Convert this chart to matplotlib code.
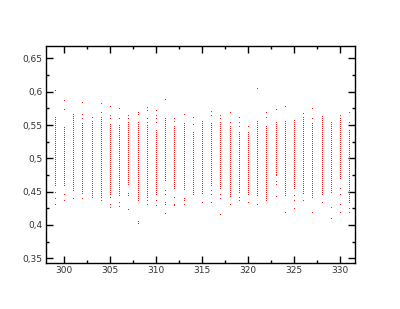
import matplotlib
matplotlib.use("Agg")
import matplotlib.pyplot as plt
from matplotlib.ticker import MultipleLocator, FuncFormatter

# values in thousandths, one list per integer x position
x_positions = list(range(299, 332))
c299 = [602, 562,559,556,553,550,547,544,541,538,535,532,529,526,523,520,517,514,511,508,505,502,499,496,493,490,487,484,481,478,475,472,469,466,463,460, 450, 441, 431]
c300 = [587, 574, 547,544,541,538,535,532,529,526,523,520,517,514,511,508,505,502,499,496,493,490,487,484,481,478,475,472,469,466,463,460, 447, 437]
c301 = [566,563,560,557,554,551,548,545,542,539,536,533,530,527,524,521,518,515,512,509,506,503,500,497,494,491,488,485,482,479,476,473,470,467,464,461,458,455,452, 441]
c302 = [585, 566, 560, 553,550,547,544,541,538,535,532,529,526,523,520,517,514,511,508,505,502,499,496,493,490,487,484,481,478,475,472,469,466,463,460,457,454,451,448, 440]
c303 = [562, 556,553,550,547,544,541,538,535,532,529,526,523,520,517,514,511,508,505,502,499,496,493,490,487,484,481,478,475,472,469,466,463,460,457,454,451,448,445,442]
c304 = [583, 569, 562,559,556,553,550,547,544,541,538,535,532,529,526,523,520,517,514,511,508,505,502,499,496,493,490,487,484,481,478,475,472,469,466,463,460,457,454,451,448,445,442,437]
c305 = [578, 565, 560, 551,548,545,542,539,536,533,530,527,524,521,518,515,512,509,506,503,500,497,494,491,488,485,482,479,476,473,470,467,464,461,458,455,452,449,446,442, 432, 427]
c306 = [575, 560, 550,547,544,541,538,535,532,529,526,523,520,517,514,511,508,505,502,499,496,493,490,487,484,481,478,475,472,469,466,463,460,457,454,451,448,445, 434, 428]
c307 = [565, 560, 555,552,549,546,543,540,537,534,531,528,525,522,519,516,513,510,507,504,501,498,495,492,489,486,483,480,477,474,471,468,465,462, 448, 445, 424]
c308 = [569, 566, 554,551,548,545,542,539,536,533,530,527,524,521,518,515,512,509,506,503,500,497,494,491,488,485,482,479,476,473,470,467,464,461,458,455,452,449,446,443,440,437, 406, 403]
c309 = [577, 573, 560, 555, 550,547,544,541,538,535,532,529,526,523,520,517,514,511,508,505,502,499,496,493,490,487,484,481,478,475,472,469,466,463,460,457,454,451,448,445,442,438, 431]
c310 = [572, 565, 560, 555, 543,540,537,534,531,528,525,522,519,516,513,510,507,504,501,498,495,492,489,486,483,480,477,474,471,468,465,462,459,456,453,450,447, 437, 430]
c311 = [589, 560,557,554,551,548,545,542,539,536,533,530,527,524,521,518,515,512,509,506,503,500,497,494,491,488,485,482,479,476,473,470,468, 453, 447, 435, 431, 418]
c312 = [560, 556, 549,546,543,540,537,534,531,528,525,522,519,516,513,510,507,504,501,498,495,492,489,486,483,480,477,474,471,468,465,462,459,456, 442, 432, 430]
c313 = [566, 553,550,547,544,541,538,535,532,529,526,523,520,517,514,511,508,505,502,499,496,493,490,487,484,481,478,475,472,469,466,463,460,457,454, 441, 437, 431]
c314 = [562, 551, 540,537,534,531,528,525,522,519,516,513,510,507,504,501,498,495,492,489,486,483,480,477,474,471,468,465,462,459,456,453,450,447]
c315 = [556,553,550,547,544,541,538,535,532,529,526,523,520,517,514,511,508,505,502,499,496,493,490,487,484,481,478,475,472,469,466,463,460,457,454,451,448, 435]
c316 = [571, 565, 553,550,547,544,541,538,535,532,529,526,523,520,517,514,511,508,505,502,499,496,493,490,487,484,481,478,475,472,469,466,463,460, 452, 446, 434]
c317 = [565, 560, 554,551,548,545,542,539,536,533,530,527,524,521,518,515,512,509,506,503,500,497,494,491,488,485,482,479,476,473,470,467,464,461,458,455, 447, 440, 416]
c318 = [569, 555, 548,545,542,539,536,533,530,527,524,521,518,515,512,509,506,503,500,497,494,491,488,485,482,479,476,473,470,467,464,461,458,455,452,449,446,443, 432]
c319 = [562, 554, 548, 540,537,534,531,528,525,522,519,516,513,510,507,504,501,498,495,492,489,486,483,480,477,474,471,468,465,462,459,456,453,450, 442, 438]
c320 = [548, 540,537,534,531,528,525,522,519,516,513,510,507,504,501,498,495,492,489,486,483,480,477,474,471,468,465,462,459,456,453,450,447, 434]
c321 = [605, 556,553,550,547,544,541,538,535,532,529,526,523,520,517,514,511,508,505,502,499,496,493,490,487,484,481,478,475,472,469,466,463,460,457,454,451,448,445, 432]
c322 = [570, 562, 548,545,542,539,536,533,530,527,524,521,518,515,512,509,506,503,500,497,494,491,488,485,482,479,476,473,470,467,464,461,458,455,452,449,446,443,440,437]
c323 = [574, 555,552,549,546,543,540,537,534,531,528,525,522,519,516,513,510,507,504,501,498,495,492,489,486,483,480,477,475, 466, 462, 443]
c324 = [578, 556,553,550,547,544,541,538,535,532,529,526,523,520,517,514,511,508,505,502,499,496,493,490,487,484,481,478,475,472,469,466,463,460,457,454,451,448,445, 420]
c325 = [558,555,552,549,546,543,540,537,534,531,528,525,522,519,516,513,510,507,504,501,498,495,492,489,486,483,480,477,474,471,468,465,462,459,456, 445, 437, 425]
c326 = [568, 562,559,556,553,550,547,544,541,538,535,532,529,526,523,520,517,514,511,508,505,502,499,496,493,490,487,484,481,478,475,472,469,466,463,460,457,454,451,448, 437]
c327 = [575, 560, 553,550,547,544,541,538,535,532,529,526,523,520,517,514,511,508,505,502,499,496,493,490,487,484,481,478,475,472,469,466,463,460,457,454,451,448,445,442, 419]
c328 = [563,560,557,554,551,548,545,542,539,536,533,530,527,524,521,518,515,512,509,506,503,500,497,494,491,488,485,482,479,476,473,470,467,464,461,458,455,452,449,446, 435]
c329 = [555,552,549,546,543,540,537,534,531,528,525,522,519,516,513,510,507,504,501,498,495,492,489,486,483,480,477,474,471,468,465,462,459,456,453,450, 427, 410]
c330 = [565, 560,557,554,551,548,545,542,539,536,533,530,527,524,521,518,515,512,509,506,503,500,497,494,491,488,485,482,479,476,473,470, 455, 447, 431, 420]
c331 = [570, 555, 543,540,537,534,531,528,525,522,519,516,513,510,507,504,501,498,495,492,489,486,483,480,477,474,471,468,465,462,459,456,453,450,447,444,441,438,435, 426, 420]

columns = [c299, c300, c301, c302, c303, c304, c305, c306, c307, c308, c309,
           c310, c311, c312, c313, c314, c315, c316, c317, c318, c319, c320,
           c321, c322, c323, c324, c325, c326, c327, c328, c329, c330, c331]

xs, ys = [], []
for xv, col in zip(x_positions, columns):
    for v in col:
        xs.append(xv)
        ys.append(v / 1000.0)

fig = plt.figure(figsize=(4.0, 3.09), dpi=100)
ax = fig.add_axes([0.115, 0.149, 0.7725, 0.702])
ax.plot(xs, ys, linestyle='none', marker='s', markersize=0.6,
        markeredgewidth=0, color='#ff0000', antialiased=False)

ax.set_xlim(298.05, 331.63)
ax.set_ylim(0.343, 0.6685)
ax.xaxis.set_major_locator(MultipleLocator(5))
ax.xaxis.set_minor_locator(MultipleLocator(2.5))
ax.yaxis.set_major_locator(MultipleLocator(0.05))
ax.yaxis.set_minor_locator(MultipleLocator(0.025))
ax.yaxis.set_major_formatter(FuncFormatter(lambda v, p: ('%g' % round(v, 3)).replace('.', ',')))
ax.xaxis.set_major_formatter(FuncFormatter(lambda v, p: '%d' % round(v)))

ax.tick_params(which='both', direction='in', top=True, right=True,
               width=1.0, colors='black', labelsize=6.5, labelcolor='#333333')
ax.tick_params(which='major', length=5, pad=2.5)
ax.tick_params(which='minor', length=2.5)
for s in ax.spines.values():
    s.set_linewidth(1.0)

fig.savefig('out.png', dpi=100)
